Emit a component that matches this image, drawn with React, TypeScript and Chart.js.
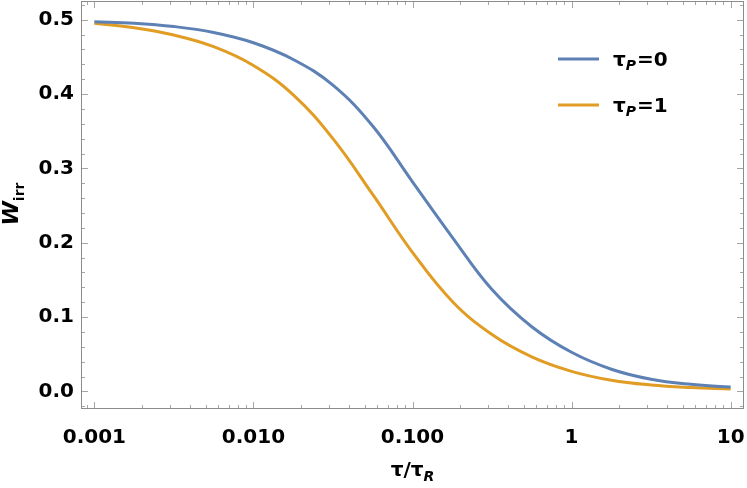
import React, { useEffect, useRef } from "react";
import { Chart, registerables } from "chart.js";

Chart.register(...registerables);

const X_VALUES = [0.001, 0.00178, 0.00316, 0.00562, 0.01, 0.0178, 0.0316, 0.0562, 0.1, 0.178, 0.316, 0.562, 1, 1.78, 3.16, 5.62, 10];
const TAU_P0 = [0.4973, 0.4954, 0.4909, 0.4828, 0.469, 0.4465, 0.412, 0.357, 0.2819, 0.2073, 0.137, 0.087, 0.0526, 0.0298, 0.0163, 0.0095, 0.0059];
const TAU_P1 = [0.4952, 0.4892, 0.4794, 0.4638, 0.4385, 0.399, 0.34, 0.265, 0.187, 0.121, 0.0765, 0.0465, 0.027, 0.015, 0.0086, 0.0052, 0.0032];

const X_TICK_VALUES = [0.001, 0.01, 0.1, 1, 10];
const X_TICK_LABELS = ["0.001", "0.010", "0.100", "1", "10"];
const Y_TICK_VALUES = [0, 0.1, 0.2, 0.3, 0.4, 0.5];
const Y_TICK_LABELS = ["0.0", "0.1", "0.2", "0.3", "0.4", "0.5"];

const SERIES_NAMES = ["0", "1"];
const COLORS = ["#5E81B5", "#E19C24"];

const FONT = "'DejaVu Sans', sans-serif";

const decorPlugin = {
  id: "decor",
  afterDraw(chart: any) {
    const ctx = chart.ctx as CanvasRenderingContext2D;
    const area = chart.chartArea;
    const xs = chart.scales.x;
    const ys = chart.scales.y;
    ctx.save();
    ctx.lineWidth = 1;
    ctx.strokeStyle = "#a6a6a6";
    const yTick = (v: number, len: number) => {
      const p = Math.round(ys.getPixelForValue(v)) + 0.5;
      if (p < area.top || p > area.bottom) return;
      ctx.beginPath();
      ctx.moveTo(area.left, p);
      ctx.lineTo(area.left + len, p);
      ctx.moveTo(area.right, p);
      ctx.lineTo(area.right - len, p);
      ctx.stroke();
    };
    for (let i = -2; i <= 27; i++) {
      const v = i * 0.02;
      const major = i % 5 === 0;
      yTick(v, major ? 7 : 4);
    }
    const xTick = (v: number, len: number) => {
      const p = Math.round(xs.getPixelForValue(v)) + 0.5;
      if (p < area.left || p > area.right) return;
      ctx.beginPath();
      ctx.moveTo(p, area.bottom);
      ctx.lineTo(p, area.bottom - len);
      ctx.moveTo(p, area.top);
      ctx.lineTo(p, area.top + len);
      ctx.stroke();
    };
    for (let d = -4; d <= 1; d++) {
      for (let k = 1; k <= 9; k++) {
        const v = k * Math.pow(10, d);
        xTick(v, k === 1 ? 7 : 4);
      }
    }
    ctx.strokeStyle = "#8c8c8c";
    ctx.lineWidth = 1;
    ctx.strokeRect(area.left + 0.5, area.top + 0.5, area.right - area.left - 1, area.bottom - area.top - 1);

    ctx.fillStyle = "#000";
    ctx.textBaseline = "alphabetic";
    const lx = 558;
    const ly = [59, 105];
    SERIES_NAMES.forEach((name, i) => {
      ctx.strokeStyle = COLORS[i];
      ctx.lineWidth = 3;
      ctx.beginPath();
      ctx.moveTo(lx, ly[i]);
      ctx.lineTo(lx + 41, ly[i]);
      ctx.stroke();
      let tx = 613;
      const base = ly[i] + 7;
      ctx.textAlign = "left";
      ctx.font = `bold 20px ${FONT}`;
      ctx.fillText("τ", tx, base);
      tx += ctx.measureText("τ").width;
      ctx.font = `italic bold 14px ${FONT}`;
      ctx.fillText("P", tx, base + 4);
      tx += ctx.measureText("P").width + 1;
      ctx.font = `bold 20px ${FONT}`;
      ctx.fillText("=" + name, tx, base);
    });

    ctx.font = `bold 20px ${FONT}`;
    const main = "τ/τ";
    const w1 = ctx.measureText(main).width;
    ctx.font = `italic bold 14px ${FONT}`;
    const w2 = ctx.measureText("R").width;
    const sx = (area.left + area.right) / 2 - (w1 + w2) / 2;
    const xb = 476;
    ctx.font = `bold 20px ${FONT}`;
    ctx.fillText(main, sx, xb);
    ctx.font = `italic bold 14px ${FONT}`;
    ctx.fillText("R", sx + w1, xb + 5);

    ctx.save();
    ctx.translate(18, 204);
    ctx.rotate(-Math.PI / 2);
    ctx.font = `italic bold 22px ${FONT}`;
    const ww = ctx.measureText("W").width;
    ctx.font = `bold 14px ${FONT}`;
    const wi = ctx.measureText("irr").width;
    const st = -(ww + wi) / 2;
    ctx.font = `italic bold 22px ${FONT}`;
    ctx.fillText("W", st, 0);
    ctx.font = `bold 14px ${FONT}`;
    ctx.fillText("irr", st + ww, 6);
    ctx.restore();

    ctx.restore();
  },
};

export default function App() {
  const ref = useRef<HTMLCanvasElement | null>(null);
  useEffect(() => {
    document.body.style.margin = "0";
    const canvas = ref.current;
    if (!canvas) return;
    const chart = new Chart(canvas, {
      type: "line",
      data: {
        datasets: SERIES_NAMES.map((name, i) => ({
          label: "τP=" + name,
          data: X_VALUES.map((x, j) => ({ x, y: (i === 0 ? TAU_P0 : TAU_P1)[j] })),
          borderColor: COLORS[i],
          backgroundColor: COLORS[i],
          borderWidth: 3,
          pointRadius: 0,
          tension: 0.4,
          fill: false,
        })),
      },
      options: {
        animation: false,
        responsive: false,
        devicePixelRatio: 1,
        layout: { padding: { left: 0, right: 3, top: 1, bottom: 0 } },
        plugins: { legend: { display: false }, tooltip: { enabled: false } },
        scales: {
          x: {
            type: "logarithmic",
            min: Math.pow(10, -3.084),
            max: Math.pow(10, 1.084),
            grid: { display: false, drawTicks: false },
            border: { display: false },
            afterBuildTicks: (s: any) => {
              s.ticks = X_TICK_VALUES.map((v) => ({ value: v }));
            },
            afterFit: (s: any) => {
              s.height = 79;
              s.paddingLeft = 0;
              s.paddingRight = 0;
            },
            ticks: {
              autoSkip: false,
              maxRotation: 0,
              padding: 17,
              color: "#000",
              font: { family: FONT, size: 20, weight: "bold" },
              callback: (v: any) => {
                const idx = X_TICK_VALUES.findIndex((t) => Math.abs(Math.log10(t) - Math.log10(Number(v))) < 1e-6);
                return idx >= 0 ? X_TICK_LABELS[idx] : "";
              },
            },
          },
          y: {
            type: "linear",
            min: -0.0237,
            max: 0.5252,
            grid: { display: false, drawTicks: false },
            border: { display: false },
            afterBuildTicks: (s: any) => {
              s.ticks = Y_TICK_VALUES.map((v) => ({ value: v }));
            },
            afterFit: (s: any) => {
              s.width = 81;
              s.paddingTop = 0;
              s.paddingBottom = 0;
            },
            ticks: {
              autoSkip: false,
              padding: 7,
              color: "#000",
              font: { family: FONT, size: 20, weight: "bold" },
              callback: (v: any) => {
                const idx = Y_TICK_VALUES.findIndex((t) => Math.abs(t - Number(v)) < 1e-9);
                return idx >= 0 ? Y_TICK_LABELS[idx] : "";
              },
            },
          },
        },
      },
      plugins: [decorPlugin],
    });
    return () => chart.destroy();
  }, []);
  return (
    <div style={{ width: 747, height: 488 }}>
      <canvas ref={ref} width={747} height={488} style={{ display: "block" }} />
    </div>
  );
}
